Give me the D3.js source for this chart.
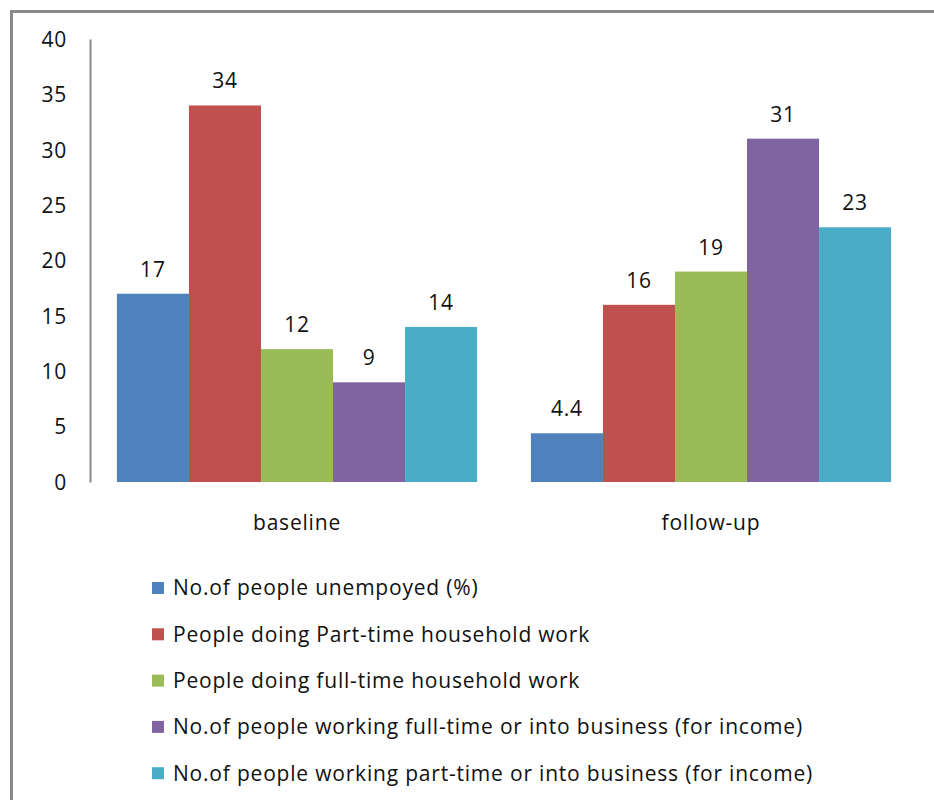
<!DOCTYPE html>
<html>
<head>
<meta charset="utf-8">
<script src="https://cdn.jsdelivr.net/npm/d3@7"></script>
<style>
  body { margin: 0; background: #fff; }
  text { font-family: "Open Sans", "Noto Sans", sans-serif; fill: #111; letter-spacing: 0.8px; }
</style>
</head>
<body>
<svg class="chart" width="934" height="800"></svg>
<script>
var groups = ["baseline", "follow-up"];
var seriesNames = [
  "No.of people unempoyed (%)",
  "People doing Part-time household work",
  "People doing full-time household work",
  "No.of people working full-time or into business (for income)",
  "No.of people working part-time or into business (for income)"
];
var seriesColors = ["#4F81BD", "#C0504D", "#9BBB59", "#8064A2", "#4BACC6"];
var baselineValues = [17, 34, 12, 9, 14];
var followupValues = [4.4, 16, 19, 31, 23];
var yTicks = [0, 5, 10, 15, 20, 25, 30, 35, 40];

var svg = d3.select(".chart");

// outer frame (runs off the right and bottom edge like the reference)
svg.append("rect")
    .attr("x", 11.5).attr("y", 11.5)
    .attr("width", 960).attr("height", 820)
    .attr("fill", "none")
    .attr("stroke", "#898989")
    .attr("stroke-width", 3);

var margin = {top: 39, left: 90},
    width = 918 - margin.left,
    height = 482 - margin.top,
    g = svg.append("g").attr("transform", "translate(" + margin.left + "," + margin.top + ")");

var x0 = d3.scaleBand()
    .domain(groups)
    .range([0, width])
    .paddingInner(0.13)
    .paddingOuter(0.065);

var x1 = d3.scaleBand()
    .domain(d3.range(seriesNames.length))
    .range([0, x0.bandwidth()]);

var y = d3.scaleLinear()
    .domain([0, 40])
    .range([height, 0]);

var data = groups.map(function(gr, i) {
  var vals = i === 0 ? baselineValues : followupValues;
  return {group: gr, values: vals.map(function(v, j) { return {i: j, v: v}; })};
});

// y axis
var yAxis = g.append("g")
    .call(d3.axisLeft(y).tickValues(yTicks).tickSize(0).tickPadding(23));
yAxis.select(".domain").attr("stroke", "#898989").attr("stroke-width", 2);
yAxis.selectAll("text")
    .style("font-size", "21px")
    .attr("dy", "0.35em");

var grp = g.selectAll(".grp")
    .data(data)
  .enter().append("g")
    .attr("class", "grp")
    .attr("transform", function(d) { return "translate(" + x0(d.group) + ",0)"; });

grp.selectAll("rect")
    .data(function(d) { return d.values; })
  .enter().append("rect")
    .attr("x", function(d) { return x1(d.i); })
    .attr("y", function(d) { return y(d.v); })
    .attr("width", x1.bandwidth())
    .attr("height", function(d) { return height - y(d.v); })
    .attr("fill", function(d) { return seriesColors[d.i]; });

grp.selectAll(".lbl")
    .data(function(d) { return d.values; })
  .enter().append("text")
    .attr("class", "lbl")
    .attr("x", function(d) { return x1(d.i) + x1.bandwidth() / 2; })
    .attr("y", function(d) { return y(d.v) - 17; })
    .attr("text-anchor", "middle")
    .style("font-size", "21px")
    .text(function(d) { return d.v; });

// category labels
g.selectAll(".cat")
    .data(groups)
  .enter().append("text")
    .attr("class", "cat")
    .attr("x", function(d) { return x0(d) + x0.bandwidth() / 2; })
    .attr("y", height + 48)
    .attr("text-anchor", "middle")
    .style("font-size", "21px")
    .text(function(d) { return d; });

// legend
var legend = svg.append("g").attr("transform", "translate(152,588)");
var item = legend.selectAll(".item")
    .data(seriesNames)
  .enter().append("g")
    .attr("class", "item")
    .attr("transform", function(d, i) { return "translate(0," + (i * 46.3) + ")"; });

item.append("rect")
    .attr("x", 0).attr("y", -6)
    .attr("width", 12).attr("height", 12)
    .attr("fill", function(d, i) { return seriesColors[i]; });

item.append("text")
    .attr("x", 21)
    .attr("dy", "0.35em")
    .style("font-size", "21px")
    .text(function(d) { return d; });
</script>
</body>
</html>
